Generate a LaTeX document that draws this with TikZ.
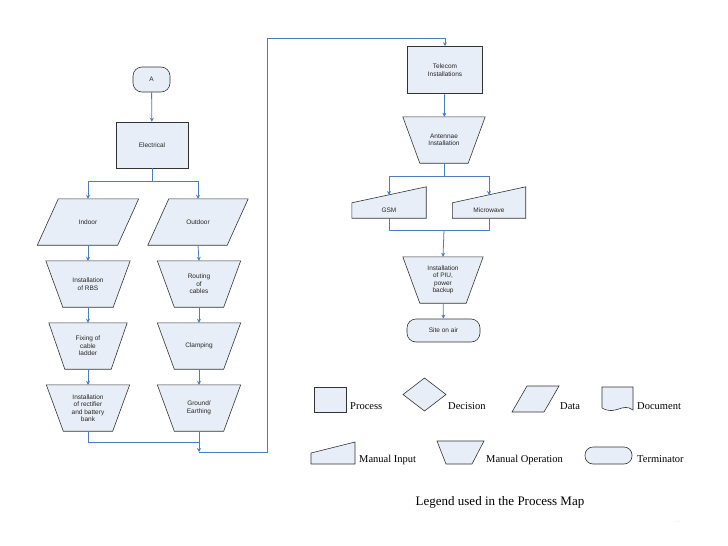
\documentclass[tikz,border=0pt]{standalone}
\usepackage{fontspec}
\setmainfont{Liberation Sans}
\newfontfamily\serifleg{Liberation Serif}
\usetikzlibrary{arrows.meta}
\pgfdeclarelayer{bg}\pgfsetlayers{bg,main}
\definecolor{shfill}{HTML}{E8EEF7}
\definecolor{shline}{HTML}{333333}
\definecolor{arcol}{HTML}{4A7EBB}
\tikzset{
  box/.style={inner sep=0pt,align=center,font=\fontsize{6.5}{7.5}\selectfont,text=black!85},
  shp/.style={draw=shline,fill=shfill,line width=0.6pt},
  ar/.style={draw=arcol,line width=0.8pt,-{Stealth[length=4pt,width=4pt]}},
  ln/.style={draw=arcol,line width=0.8pt},
  term/.style={box,shp,rounded corners=9pt},
  leg/.style={font=\serifleg\fontsize{10.5}{12}\selectfont,anchor=base west,inner sep=0pt}
}
\newcommand\manop[4]{% name, pos, size(w,h), inset
  \node[box,minimum width=#3,minimum height=46pt] (#1) at (#2) {#4};}
\newcommand\trap[2]{\begin{pgfonlayer}{bg}\draw[shp] (#1.north west)--(#1.north east)--([xshift=-#2]#1.south east)--([xshift=#2]#1.south west)--cycle;\end{pgfonlayer}}
\newcommand\para[2]{\begin{pgfonlayer}{bg}\draw[shp] (#1.south west)--([xshift=#2]#1.north west)--(#1.north east)--([xshift=-#2]#1.south east)--cycle;\end{pgfonlayer}}
\newcommand\minp[1]{\begin{pgfonlayer}{bg}\draw[shp] (#1.south west)--(#1.north west)--([yshift=16pt]#1.north east)--(#1.south east)--cycle;\end{pgfonlayer}}
\begin{document}
\begin{tikzpicture}[x=1pt,y=-1pt]
\useasboundingbox (0,0) rectangle (728,546);
% left column
\node[term,minimum width=37pt,minimum height=25pt] (A) at (151.5,79.5) {A};
\node[box,shp,minimum width=72pt,minimum height=46pt] (elec) at (152,145) {Electrical};
\node[box,minimum width=101pt,minimum height=46pt] (indoor) at (88,222) {Indoor}; \para{indoor}{21pt}
\node[box,minimum width=100pt,minimum height=46pt] (outdoor) at (198,222) {Outdoor}; \para{outdoor}{21pt}
\manop{rbs}{88,284}{84pt}{Installation\\of RBS} \trap{rbs}{17pt}
\manop{routing}{199,284}{83pt}{Routing\\of\\cables} \trap{routing}{17pt}
\manop{fixing}{88,346}{78pt}{Fixing of\\cable\\ladder} \trap{fixing}{16pt}
\manop{clamp}{199,346}{83pt}{Clamping} \trap{clamp}{17pt}
\manop{rect}{88,408}{83pt}{Installation\\of rectifier\\and battery\\bank} \trap{rect}{17pt}
\manop{ground}{199,408}{83pt}{Ground/\\Earthing} \trap{ground}{17pt}
% right column
\node[box,shp,minimum width=75pt,minimum height=47pt] (tel) at (445,70) {Telecom\\Installations};
\manop{ant}{444,140}{82pt}{Antennae\\Installation} \trap{ant}{17pt}
\node[box,minimum width=74pt,minimum height=15pt] (gsm) at (389,210.5) {GSM}; \minp{gsm}
\node[box,minimum width=73pt,minimum height=15pt] (mw) at (489,210.5) {Microwave}; \minp{mw}
\manop{piu}{443,280}{80pt}{Installation\\of PIU,\\power\\backup} \trap{piu}{17pt}
\node[term,minimum width=73pt,minimum height=23pt] (site) at (443.5,330.5) {Site on air};
% connectors
\draw[ar] (A) -- (elec);
\coordinate (b1) at (152,181);
\draw[ln] (elec.south) -- (b1);
\draw[ar] (b1) -| (indoor.north);
\draw[ar] (b1) -| (outdoor.north);
\draw[ar] (indoor) -- (rbs);
\draw[ar] (outdoor.south) -- (routing.north);
\draw[ar] (rbs) -- (fixing);
\draw[ar] (routing) -- (clamp);
\draw[ar] (fixing) -- (rect);
\draw[ar] (clamp) -- (ground);
\coordinate (m1) at (199,442);
\coordinate (m2) at (199,452);
\coordinate (c1) at (267,452);
\coordinate (c2) at (445,38);
\draw[ln] (rect.south) |- (m1);
\draw[ln] (ground.south) -- (m1);
\draw[ar] (m1) -- (m2);
\draw[ar] (m2) -- (c1) |- (c2) -- (tel.north);
\draw[ar] (tel) -- (ant);
\coordinate (b2) at (444,176);
\coordinate (g1) at (389,195);
\coordinate (w1) at (489,195);
\draw[ln] (ant.south) -- (b2);
\draw[ar] (b2) -| (g1);
\draw[ar] (b2) -| (w1);
\coordinate (m3) at (444,230);
\draw[ln] (gsm.south) |- (m3);
\draw[ln] (mw.south) |- (m3);
\draw[ar] (m3) -- (piu.north);
\draw[ar] (piu) -- (site);
% legend
\draw[shp] (314,387) rectangle (346,412);
\node[leg] (lp) at (350,409) {Process};
\draw[shp] (403,394.5) -- (424.5,378) -- (446,394.5) -- (424.5,411) -- cycle;
\node[leg] (ld) at (448,409) {Decision};
\draw[shp] (512,412) -- (527,386) -- (559,386) -- (544,412) -- cycle;
\node[leg] (lda) at (560,409) {Data};
\draw[shp] (602,387) -- (633,387) -- (633,410) .. controls (622,402) and (616,416) .. (602,408) -- cycle;
\node[leg] (ldo) at (637,409) {Document};
\draw[shp] (311,464) -- (311,453) -- (355,442) -- (355,464) -- cycle;
\node[leg] (lmi) at (359,462) {Manual Input};
\draw[shp] (437,441) -- (484,441) -- (472,464) -- (446,464) -- cycle;
\node[leg] (lmo) at (486,462) {Manual Operation};
\draw[shp,rounded corners=8pt] (585,447) rectangle (632,464);
\node[leg] (lt) at (637,462) {Terminator};
\node[font=\serifleg\fontsize{13}{15}\selectfont,inner sep=0pt] (cap) at (500,502) {Legend used in the Process Map};
\node[font=\fontsize{4}{4}\selectfont,inner sep=0pt,text=gray] (dots) at (678,522) {.\,\,.};
\end{tikzpicture}
\end{document}
